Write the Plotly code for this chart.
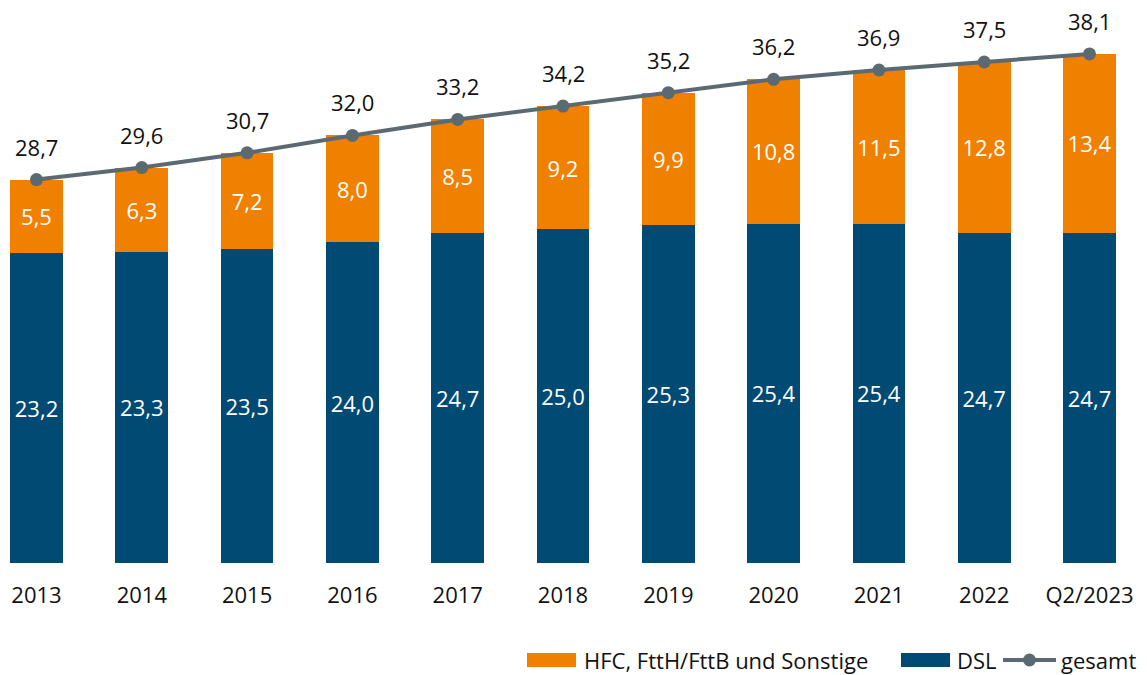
import plotly.graph_objects as go

# Breitbandanschlüsse in Mio.
kategorien = ["2013", "2014", "2015", "2016", "2017", "2018", "2019", "2020", "2021", "2022", "Q2/2023"]
dsl = [23.2, 23.3, 23.5, 24.0, 24.7, 25.0, 25.3, 25.4, 25.4, 24.7, 24.7]
hfc = [5.5, 6.3, 7.2, 8.0, 8.5, 9.2, 9.9, 10.8, 11.5, 12.8, 13.4]
gesamt = [28.7, 29.6, 30.7, 32.0, 33.2, 34.2, 35.2, 36.2, 36.9, 37.5, 38.1]

FONT = "Open Sans"
FS = 22
ORANGE = "#EF8000"
BLAU = "#004A73"
GRAU = "#5B6A72"
TEXT = "#111111"

# Die Seite hat 8px Rand (body margin), daher etwas kleinere Figur
FIG_W, FIG_H = 1139, 667
OFF = 8
PLOT_H = 555.0

fig = go.Figure()

fig.add_trace(go.Bar(
    x=kategorien, y=dsl, name="DSL",
    marker=dict(color=BLAU, line=dict(width=0)),
    texttemplate="%{y:.1f}", textposition="inside", insidetextanchor="middle",
    textfont=dict(color="white", size=FS, family=FONT), constraintext="none",
))
fig.add_trace(go.Bar(
    x=kategorien, y=hfc, name="HFC, FttH/FttB und Sonstige",
    marker=dict(color=ORANGE, line=dict(width=0)),
    texttemplate="%{y:.1f}", textposition="inside", insidetextanchor="middle",
    textfont=dict(color="white", size=FS, family=FONT), constraintext="none",
))
fig.add_trace(go.Scatter(
    x=kategorien, y=gesamt, name="gesamt", mode="lines+markers",
    line=dict(color=GRAU, width=4), marker=dict(color=GRAU, size=13),
))

# Summenwerte über den Punkten
for i, g in enumerate(gesamt):
    fig.add_annotation(x=i, y=g, text=f"{g:.1f}".replace(".", ","), showarrow=False,
                       yshift=33, font=dict(size=FS, color=TEXT, family=FONT))


def px(x):
    return (x - OFF) / FIG_W


def py(y):
    return (PLOT_H + OFF - y) / PLOT_H


# Legende unten rechts (breite Farbfelder wie im Original)
legende = [
    ("bar", ORANGE, 527, 576, 582, "HFC, FttH/FttB und Sonstige"),
    ("bar", BLAU, 901, 950, 955, "DSL"),
    ("line", GRAU, 1003, 1056, 1059, "gesamt"),
]
for art, farbe, x0, x1, xt, label in legende:
    if art == "bar":
        fig.add_shape(type="rect", xref="paper", yref="paper",
                      x0=px(x0), x1=px(x1), y0=py(667), y1=py(653),
                      fillcolor=farbe, line=dict(width=0))
    else:
        fig.add_shape(type="line", xref="paper", yref="paper",
                      x0=px(x0), x1=px(x1), y0=py(660), y1=py(660),
                      line=dict(color=farbe, width=4))
        xm = (x0 + x1) / 2
        fig.add_shape(type="circle", xref="paper", yref="paper",
                      x0=px(xm - 6.5), x1=px(xm + 6.5), y0=py(666.5), y1=py(653.5),
                      fillcolor=farbe, line=dict(width=0))
    fig.add_annotation(xref="paper", yref="paper", x=px(xt), y=py(660),
                       xanchor="left", yanchor="middle", showarrow=False, text=label,
                       font=dict(size=FS, color=TEXT, family=FONT))

fig.update_layout(
    barmode="stack",
    bargap=0.5,
    separators=",.",
    width=FIG_W, height=FIG_H,
    margin=dict(l=0, r=0, t=0, b=FIG_H - PLOT_H, autoexpand=False),
    plot_bgcolor="white", paper_bgcolor="white",
    font=dict(family=FONT, size=FS, color=TEXT),
    showlegend=False,
    xaxis=dict(type="category", range=[-0.2707, 10.546], showgrid=False, zeroline=False,
               showline=False, ticks="", ticklabelstandoff=17, automargin=False,
               tickfont=dict(size=FS, color=TEXT)),
    yaxis=dict(range=[0, 41.54], visible=False),
)

fig.write_html("out.html")
